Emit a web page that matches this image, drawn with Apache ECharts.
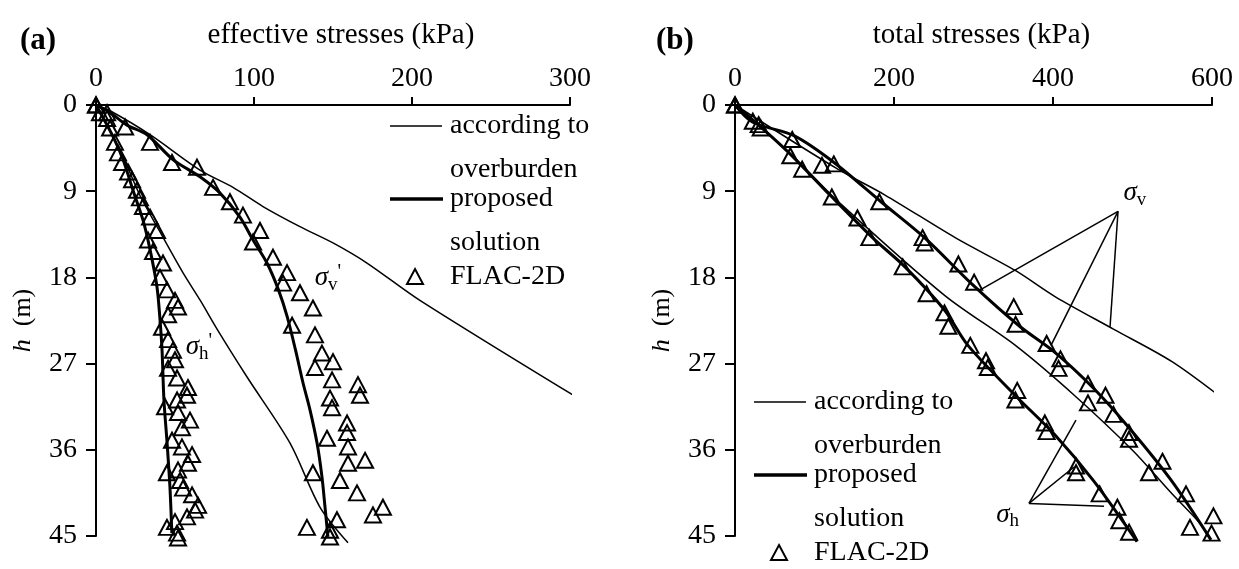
<!DOCTYPE html>
<html>
<head>
<meta charset="utf-8">
<title>Effective and total stresses with depth</title>
<script src="https://cdn.jsdelivr.net/npm/echarts@6.0.0/dist/echarts.min.js"></script>
<style>
  html, body { margin: 0; padding: 0; background: #fff; }
  #chart { width: 1239px; height: 569px; }
</style>
</head>
<body>
<div id="chart"></div>
<script>
// ---------- axes ----------
const depthMax = 45, depthInterval = 9;          // h (m), 0 at top
const effMax = 300, effInterval = 100;           // effective stresses (kPa)
const totMax = 600, totInterval = 200;           // total stresses (kPa)

// ---------- panel (a): effective stresses, [kPa, m] ----------
const aOverburdenV = [[0,0],[8.9,0.6],[34.2,3.1],[65.8,6.8],[86.7,8.6],[105.7,10.6],[129.1,12.7],[150,14.4],[171.5,16.5],[205,20.4],[305,30.6]];
const aOverburdenH = [[0,0],[16,5],[28,9.5],[40,13.1],[55,17.5],[66,20.4],[77,23.5],[95.6,28.4],[122.8,35.3],[141.8,42],[159.5,45.7]];
const aProposedV = [[0,0],[8.9,0.8],[19.6,2.1],[32.3,3.1],[48.7,5.7],[65.8,7.5],[78.5,9.2],[91.1,11.7],[99.4,14.1],[108.2,16.5],[115.5,19.3],[121,22.1],[126.3,25.6],[131,29.0],[135.4,31.8],[139.9,35.3],[143,38.8],[144.9,41.9],[146.8,45.1]];
const aProposedH = [[0,0],[10.8,3.3],[17.1,5.7],[23.4,8.9],[29.7,12],[34.2,15.1],[38.6,19],[40.5,22.4],[41.8,25.6],[43,30.8],[45,35.3],[46.8,39.9],[48,44.7]];
const aFlacV = [[0,0],[7.0,0.8],[18.4,2.3],[34.2,3.9],[48.1,6.0],[63.9,6.5],[74.1,8.6],[84.8,10.1],[93.0,11.5],[103.8,13.1],[99.4,14.3],[112.0,15.9],[120.9,17.5],[118.4,18.6],[129.1,19.6],[137.3,21.2],[124.1,23.0],[138.6,24.0],[143.0,25.9],[138.6,27.4],[150.0,26.8],[149.4,28.7],[165.8,29.2],[167.1,30.3],[148.1,30.6],[149.4,31.6],[158.9,33.2],[158.9,34.2],[146.2,34.8],[159.5,35.7],[170.3,37.1],[159.5,37.4],[154.4,39.2],[137.3,38.4],[165.2,40.5],[181.6,42.0],[175.3,42.8],[133.5,44.1],[152.5,43.3],[148.1,44.4],[148.1,45.1]];
const aFlacH = [[0,0],[2.5,0.8],[7,1.4],[8.9,2.4],[12,3.9],[13.9,5.0],[16.5,6.0],[20.3,7.0],[22.8,7.8],[25.9,8.9],[27.8,9.7],[29.7,10.6],[34.2,11.7],[38.6,13.1],[32.9,14.1],[36.1,15.3],[42.4,16.5],[40.5,18.0],[44.9,19.3],[50,20.4],[51.9,21.1],[45.6,21.9],[41.8,23.2],[45.6,24.5],[48.7,25.6],[50,26.6],[45.6,27.5],[51.3,28.5],[58.2,29.5],[57.6,30.3],[51.3,30.8],[43.7,31.5],[51.9,32.1],[59.5,32.9],[54.4,33.7],[48.1,35.0],[54.4,35.7],[60.8,36.5],[58.2,37.4],[51.9,38.1],[44.9,38.4],[53.2,39.2],[55.1,40.0],[60.8,40.7],[64.6,41.8],[62.7,42.3],[57.6,43.0],[50,43.5],[44.9,44.1],[51.3,44.7],[51.9,45.2]];
const aLabelV = [146.8, 18.1];
const aLabelH = [65.2, 25.3];

// ---------- panel (b): total stresses, [kPa, m] ----------
const bOverburdenV = [[0,0],[129.3,6.7],[188.7,9.4],[278,13.9],[353,17.3],[402.5,20.0],[476,23.4],[549.7,26.8],[618.9,31.0]];
const bOverburdenH = [[0,0],[69.2,5.1],[134,10.4],[264,19.9],[352.7,25.1],[426.7,30.3],[500.6,36.1],[549.7,40.6],[585,43.7],[596,45.1]];
const bProposedV = [[0,0],[22.4,1.8],[74.2,3.2],[124.5,6.0],[183.6,10.1],[239,13.9],[298.1,18.7],[358,23.1],[402,25.8],[451.3,29.6],[495.6,33.7],[549.7,39.3],[598.7,45.4]];
const bProposedH = [[0,0],[29.8,2.1],[69.2,5.1],[119.5,9.4],[173.6,13.9],[213.8,16.9],[263.5,21.4],[293,25.1],[352.2,30.3],[402,34.4],[451.6,39.3],[505.7,45.6]];
const bFlacV = [[0,0],[22.4,1.7],[32.3,2.4],[72,3.6],[109.4,6.3],[124.3,6.15],[181.5,10.1],[236,13.85],[238.6,14.4],[281,16.6],[300.8,18.5],[350.6,21.05],[353,22.9],[392,24.9],[409.4,26.5],[407,27.5],[444,29.1],[466,30.3],[444,31.1],[476,32.3],[495.6,34.2],[495.6,34.9],[537.7,37.2],[520.8,38.4],[567.3,40.6],[572.3,44.1],[601.8,42.9],[599.4,44.7]];
const bFlacH = [[0,0],[29.8,2.05],[69.6,5.3],[84.5,6.7],[121.8,9.6],[154,11.8],[169,13.85],[211,16.9],[241,19.7],[263.5,21.7],[268.4,23.1],[296,25.1],[315.7,26.7],[318,27.4],[355,29.8],[352.7,30.8],[389.7,33.2],[392,34.1],[429,37.7],[429,38.4],[458.7,40.6],[481,42.0],[483.5,43.4],[495.7,44.6]];
const bLabelV = [503, 9.2];
const bLabelH = [343, 42.8];
// leader lines from each label to its curves
const bLeadersV = [[[481.8,11.1],[310.7,19.2]], [[481.8,11.1],[397.5,25.1]], [[481.8,11.1],[471.7,23.2]]];
const bLeadersH = [[[369.8,41.6],[428.9,32.9]], [[369.8,41.6],[426.4,37.8]], [[369.8,41.6],[464.2,41.9]]];

// ---------- text ----------
const titleA = '(a)', titleB = '(b)';
const xNameA = 'effective stresses (kPa)';
const xNameB = 'total stresses (kPa)';
const legendLines = ['according to', 'overburden', 'proposed', 'solution', 'FLAC-2D'];

const FONT = '"Liberation Serif", "Times New Roman", serif';
const INK = '#000';

const chart = echarts.init(document.getElementById('chart'), null, { renderer: 'canvas' });

function xAxisCfg(grid, max, interval, name) {
  return {
    type: 'value', gridIndex: grid, position: 'top', min: 0, max: max, interval: interval,
    name: name, nameLocation: 'middle', nameGap: 55,
    nameTextStyle: { fontFamily: FONT, fontSize: 29, color: INK, padding: [0, 0, 0, 16] },
    axisLine: { show: true, onZero: false, lineStyle: { color: INK, width: 2 } },
    axisTick: { show: true, length: 8, lineStyle: { color: INK, width: 2 } },
    axisLabel: { fontFamily: FONT, fontSize: 28, color: INK, margin: 12 },
    splitLine: { show: false }
  };
}
function yAxisCfg(grid) {
  return {
    type: 'value', gridIndex: grid, inverse: true, min: 0, max: depthMax, interval: depthInterval,
    name: '{i|h}  (m)', nameLocation: 'middle', nameGap: 60, nameRotate: 90,
    nameTextStyle: { fontFamily: FONT, fontSize: 26, color: INK,
      rich: { i: { fontFamily: FONT, fontSize: 26, fontStyle: 'italic', color: INK } } },
    axisLine: { show: true, onZero: false, lineStyle: { color: INK, width: 2 } },
    axisTick: { show: true, length: 10, lineStyle: { color: INK, width: 2 } },
    axisLabel: { fontFamily: FONT, fontSize: 28, color: INK, margin: 19 },
    splitLine: { show: false }
  };
}
function lineSeries(grid, data, width) {
  return {
    type: 'line', xAxisIndex: grid, yAxisIndex: grid, data: data,
    symbol: 'none', smooth: 0.3, clip: false, silent: true,
    lineStyle: { color: INK, width: width }
  };
}
function flacSeries(grid, data) {
  return {
    type: 'scatter', xAxisIndex: grid, yAxisIndex: grid, data: data,
    symbol: 'triangle', symbolSize: [16, 15], silent: true, clip: false,
    itemStyle: { color: 'rgba(255,255,255,0)', borderColor: INK, borderWidth: 2, opacity: 1 }
  };
}
const sigmaRich = {
  g: { fontFamily: FONT, fontSize: 27, fontStyle: 'italic', color: INK, lineHeight: 32 },
  s: { fontFamily: FONT, fontSize: 19, color: INK, verticalAlign: 'bottom', lineHeight: 19 },
  p: { fontFamily: FONT, fontSize: 20, color: INK, verticalAlign: 'top', lineHeight: 16 }
};
function labelSeries(grid, point, text) {
  return {
    type: 'scatter', xAxisIndex: grid, yAxisIndex: grid, data: [point],
    symbolSize: 0, silent: true, clip: false,
    label: { show: true, position: 'inside', formatter: text, rich: sigmaRich,
      color: INK, textBorderWidth: 0, textBorderColor: 'transparent', opacity: 1 }
  };
}
function leaderSeries(grid, segs) {
  return segs.map(seg => ({
    type: 'line', xAxisIndex: grid, yAxisIndex: grid, data: seg,
    symbol: 'none', silent: true, clip: false,
    lineStyle: { color: INK, width: 1.5 }
  }));
}

// legend block drawn as plain graphics: line samples, triangle and wrapped text
function legendBlock(x0, y0) {
  const txt = (s, y) => ({
    type: 'text', x: x0 + 60, y: y,
    style: { text: s, font: '28px ' + FONT, fill: INK, textVerticalAlign: 'middle', verticalAlign: 'middle' }
  });
  return [
    { type: 'line', shape: { x1: x0, y1: y0, x2: x0 + 52, y2: y0 }, style: { stroke: INK, lineWidth: 1.5 } },
    txt(legendLines[0], y0),
    txt(legendLines[1], y0 + 44),
    { type: 'line', shape: { x1: x0, y1: y0 + 73, x2: x0 + 53, y2: y0 + 73 }, style: { stroke: INK, lineWidth: 3.5 } },
    txt(legendLines[2], y0 + 73),
    txt(legendLines[3], y0 + 117),
    { type: 'polygon', shape: { points: [[x0 + 25, y0 + 143], [x0 + 33, y0 + 158], [x0 + 17, y0 + 158]] },
      style: { fill: 'none', stroke: INK, lineWidth: 2 } },
    txt(legendLines[4], y0 + 151)
  ];
}

const option = {
  animation: false,
  backgroundColor: '#fff',
  title: [
    { text: titleA, left: 15, top: 20, textStyle: { fontFamily: FONT, fontSize: 31, fontWeight: 'bold', color: INK } },
    { text: titleB, left: 651, top: 20, textStyle: { fontFamily: FONT, fontSize: 31, fontWeight: 'bold', color: INK } }
  ],
  grid: [
    { left: 96, top: 105, width: 474, height: 431 },
    { left: 735, top: 105, width: 477, height: 431 }
  ],
  xAxis: [xAxisCfg(0, effMax, effInterval, xNameA), xAxisCfg(1, totMax, totInterval, xNameB)],
  yAxis: [yAxisCfg(0), yAxisCfg(1)],
  series: [
    lineSeries(0, aOverburdenV, 1.5),
    lineSeries(0, aOverburdenH, 1.5),
    lineSeries(0, aProposedV, 3),
    lineSeries(0, aProposedH, 3),
    flacSeries(0, aFlacV),
    flacSeries(0, aFlacH),
    labelSeries(0, aLabelV, "{g|σ}{s|v}{p|'}"),
    labelSeries(0, aLabelH, "{g|σ}{s|h}{p|'}"),
    lineSeries(1, bOverburdenV, 1.5),
    lineSeries(1, bOverburdenH, 1.5),
    lineSeries(1, bProposedV, 3),
    lineSeries(1, bProposedH, 3),
    flacSeries(1, bFlacV),
    flacSeries(1, bFlacH),
    ...leaderSeries(1, bLeadersV),
    ...leaderSeries(1, bLeadersH),
    labelSeries(1, bLabelV, '{g|σ}{s|v}'),
    labelSeries(1, bLabelH, '{g|σ}{s|h}')
  ],
  graphic: [...legendBlock(390, 126), ...legendBlock(754, 402)]
};
chart.setOption(option);
</script>
</body>
</html>
